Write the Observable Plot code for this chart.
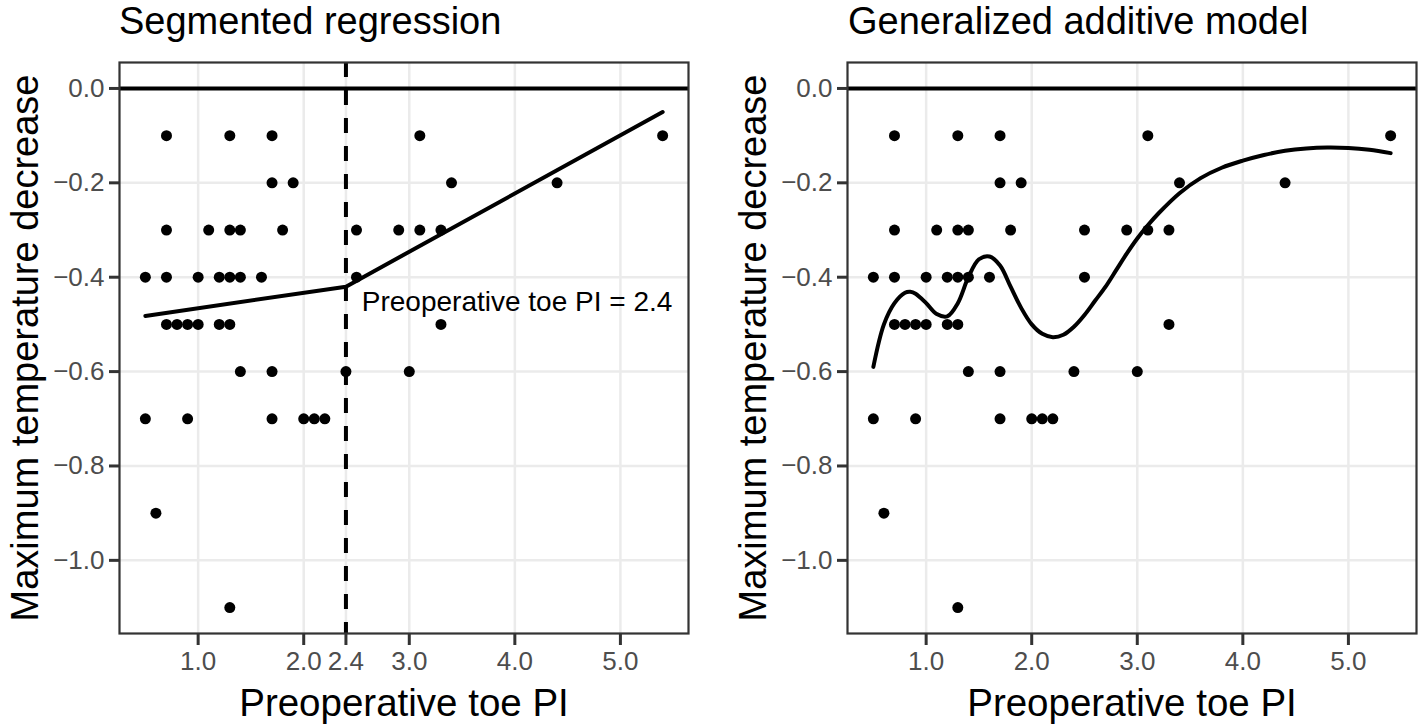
<!DOCTYPE html>
<html><head><meta charset="utf-8">
<script src="https://cdn.jsdelivr.net/npm/d3@7"></script>
<script src="https://cdn.jsdelivr.net/npm/@observablehq/plot@0.6"></script>
<style>
body{margin:0;background:#fff;font-family:"Liberation Sans",Arial,sans-serif;}
#wrap{display:flex;width:1424px;height:724px;overflow:hidden}
.panel{width:712px;height:724px;position:relative}
.title{height:44px;font-size:38px;line-height:43px;box-sizing:border-box;padding-top:0;color:#000;white-space:nowrap}
svg{display:block}
</style></head><body>
<div id="wrap">
  <div class="panel" id="p1"><div class="title" id="t1" style="padding-left:119px"></div></div>
  <div class="panel" id="p2"><div class="title" id="t2" style="padding-left:136px"></div></div>
</div>
<script>
// ---- data ----
const titles = ["Segmented regression", "Generalized additive model"];
const xLabel = "Preoperative toe PI";
const yLabel = "Maximum temperature decrease";
const pointX = [0.7,1.3,1.7,3.1,5.4,
                1.7,1.9,3.4,4.4,
                0.7,1.1,1.3,1.4,1.8,2.5,2.9,3.1,3.3,
                0.5,0.7,1.0,1.2,1.3,1.4,1.6,2.5,
                0.7,0.8,0.9,1.0,1.2,1.3,3.3,
                1.4,1.7,2.4,3.0,
                0.5,0.9,1.7,2.0,2.1,2.2,
                0.6,
                1.3];
const pointY = [-0.1,-0.1,-0.1,-0.1,-0.1,
                -0.2,-0.2,-0.2,-0.2,
                -0.3,-0.3,-0.3,-0.3,-0.3,-0.3,-0.3,-0.3,-0.3,
                -0.4,-0.4,-0.4,-0.4,-0.4,-0.4,-0.4,-0.4,
                -0.5,-0.5,-0.5,-0.5,-0.5,-0.5,-0.5,
                -0.6,-0.6,-0.6,-0.6,
                -0.7,-0.7,-0.7,-0.7,-0.7,-0.7,
                -0.9,
                -1.1];
const segX = [0.5, 2.4, 5.4];
const segY = [-0.482, -0.420, -0.050];
const breakpoint = [2.4];
const annotX = [2.55];
const annotY = [-0.452];
const annotText = ["Preoperative toe PI = 2.4"];
const gamX = [0.5,0.6,0.7,0.8,0.85,0.9,1.0,1.1,1.2,1.3,1.4,1.5,1.6,1.7,1.8,1.9,2.0,2.1,2.2,2.3,2.4,2.5,2.6,2.7,2.8,2.9,3.0,3.1,3.2,3.4,3.6,3.8,4.0,4.2,4.4,4.6,4.8,5.0,5.2,5.4];
const gamY = [-0.59,-0.50,-0.455,-0.433,-0.431,-0.435,-0.455,-0.478,-0.483,-0.455,-0.40,-0.362,-0.356,-0.375,-0.42,-0.465,-0.50,-0.520,-0.527,-0.522,-0.505,-0.48,-0.45,-0.42,-0.385,-0.35,-0.318,-0.29,-0.265,-0.222,-0.19,-0.168,-0.153,-0.141,-0.132,-0.127,-0.125,-0.126,-0.13,-0.137];
const xTicksLeft = [1.0, 2.0, 2.4, 3.0, 4.0, 5.0];
const xTicksRight = [1.0, 2.0, 3.0, 4.0, 5.0];
const yTicks = [0.0, -0.2, -0.4, -0.6, -0.8, -1.0];

// ---- derived tables ----
const points = pointX.map((x, i) => ({x, y: pointY[i]}));
const seg = segX.map((x, i) => ({x, y: segY[i]}));
const gam = gamX.map((x, i) => ({x, y: gamY[i]}));
const annot = annotX.map((x, i) => ({x, y: annotY[i], t: annotText[i]}));

const fmt = d3.format(".1f");
const GRID = {stroke: "#ebebeb", strokeOpacity: 1, strokeWidth: 2.5};

function panel(ml, mr, xticks, fitMarks) {
  return Plot.plot({
    width: 712, height: 680,
    marginTop: 18, marginBottom: 91, marginLeft: ml, marginRight: mr,
    x: {domain: [0.255, 5.645]},
    y: {domain: [-1.155, 0.055]},
    style: {fontFamily: "Liberation Sans, Arial, sans-serif", background: "#fff", overflow: "visible"},
    marks: [
      Plot.gridX(xticks, GRID),
      Plot.gridY(yTicks, GRID),
      Plot.axisX(xticks, {tickSize: 12, tickPadding: 6, fontSize: 26, fill: "#4d4d4d", stroke: "#333", strokeWidth: 3, tickFormat: fmt, label: null}),
      Plot.axisY(yTicks, {tickSize: 10, tickPadding: 5, fontSize: 26, fill: "#4d4d4d", stroke: "#333", strokeWidth: 3, tickFormat: fmt, label: null}),
      Plot.ruleY([0], {stroke: "#000", strokeWidth: 4}),
      ...fitMarks,
      Plot.dot(points, {x: "x", y: "y", r: 5.5, fill: "#000", stroke: null}),
      Plot.frame({stroke: "#333", strokeWidth: 2.2}),
      Plot.text([xLabel], {frameAnchor: "bottom", lineAnchor: "bottom", dy: 82, fontSize: 38.5, fill: "#000"}),
      Plot.text([yLabel], {frameAnchor: "left", textAnchor: "middle", lineAnchor: "bottom", rotate: -90, dx: -82, fontSize: 38, fill: "#000"})
    ]
  });
}

const left = panel(119, 24, xTicksLeft, [
  Plot.ruleX(breakpoint, {stroke: "#000", strokeWidth: 4, strokeDasharray: "15,13"}),
  Plot.line(seg, {x: "x", y: "y", stroke: "#000", strokeWidth: 4}),
  Plot.text(annot, {x: "x", y: "y", text: "t", textAnchor: "start", lineAnchor: "middle", fontSize: 28, fill: "#000"})
]);
const right = panel(135, 8, xTicksRight, [
  Plot.line(gam, {x: "x", y: "y", stroke: "#000", strokeWidth: 4, curve: "catmull-rom"})
]);
document.getElementById("t1").textContent = titles[0];
document.getElementById("t2").textContent = titles[1];
document.getElementById("p1").appendChild(left);
document.getElementById("p2").appendChild(right);
</script>
</body></html>
